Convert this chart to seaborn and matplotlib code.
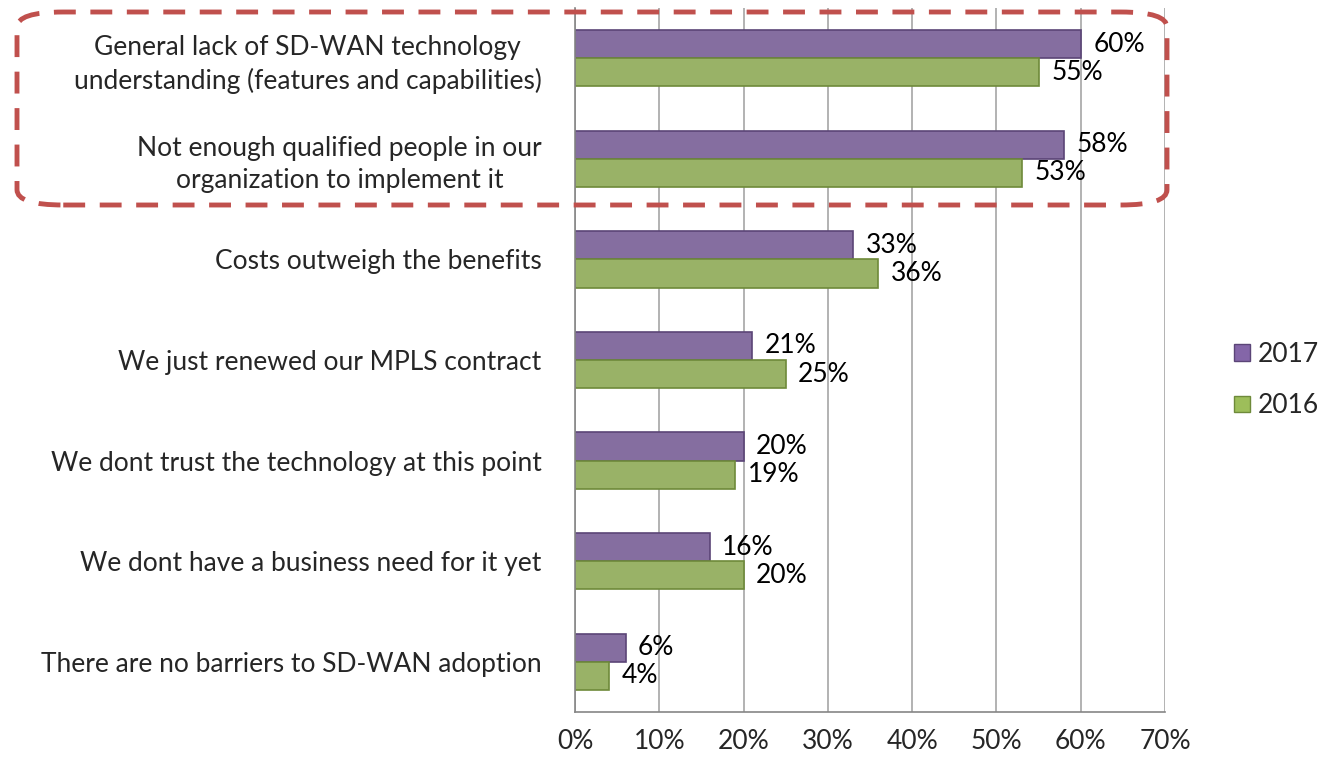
import pandas as pd
import matplotlib.pyplot as plt
import seaborn as sns
import numpy as np
from matplotlib.patches import FancyBboxPatch, Patch
from matplotlib.ticker import MultipleLocator, FixedLocator

categories = [
    "General lack of SD-WAN technology\nunderstanding (features and capabilities)",
    "Not enough qualified people in our\norganization to implement it",
    "Costs outweigh the benefits",
    "We just renewed our MPLS contract",
    "We dont trust the technology at this point",
    "We dont have a business need for it yet",
    "There are no barriers to SD-WAN adoption",
]
years = ["2017", "2016"]
values_2017 = [60, 58, 33, 21, 20, 16, 6]
values_2016 = [55, 53, 36, 25, 19, 20, 4]

df = pd.DataFrame({
    "barrier": categories * 2,
    "year": [years[0]] * len(categories) + [years[1]] * len(categories),
    "pct": values_2017 + values_2016,
})

colors = {"2017": "#8466A8", "2016": "#9DBE5A"}
edges = {"2017": "#5B4577", "2016": "#6E8A3A"}
FS = 19

sns.set_style("white")
plt.rcParams['font.family'] = ['Lato', 'DejaVu Sans']

fig = plt.figure(figsize=(13.22, 7.58), dpi=100)
ax = fig.add_axes([575 / 1322, 1 - 712 / 758, 590 / 1322, 704 / 758])

sns.barplot(data=df, y="barrier", x="pct", hue="year", palette=colors,
            orient="h", width=0.56, dodge=True, ax=ax, legend=False)

# darker edges for a bevelled look
for cont, yr in zip(ax.containers, years):
    for bar in cont:
        bar.set_edgecolor(edges[yr])
        bar.set_linewidth(1.2)
    ax.bar_label(cont, labels=[f"{v:.0f}%" for v in cont.datavalues],
                 padding=9, fontsize=FS, color="black")

ax.set_xlim(0, 70)
ax.set_ylim(len(categories) - 0.5, -0.5)
ax.xaxis.set_major_locator(MultipleLocator(10))
ax.set_xticklabels([f"{int(t)}%" for t in ax.get_xticks()], fontsize=FS)
ax.grid(axis="x", color="#A6A6A6", linewidth=1.2)
ax.set_axisbelow(True)
ax.set_xlabel("")
ax.set_ylabel("")

# category labels sit between boundary ticks
ax.tick_params(axis="y", which="major", length=0, pad=24, labelsize=FS)
ax.yaxis.set_minor_locator(FixedLocator(np.arange(-0.5, len(categories), 1)))
ax.tick_params(axis="y", which="minor", length=8, color="#868686", width=1.2)
ax.tick_params(axis="x", which="major", length=8, color="#868686", width=1.2, pad=4)
for lbl in ax.get_yticklabels():
    lbl.set_horizontalalignment("right")
    lbl.set_multialignment("center")
    lbl.set_linespacing(1.35)

for side in ["top", "right"]:
    ax.spines[side].set_visible(False)
for side in ["left", "bottom"]:
    ax.spines[side].set_color("#868686")
    ax.spines[side].set_linewidth(1.2)

# legend
handles = [Patch(facecolor=colors[y], edgecolor=edges[y], label=y) for y in years]
fig.legend(handles=handles, loc="center left", bbox_to_anchor=(1234 / 1322, 1 - 380 / 758),
           frameon=False, fontsize=FS, handlelength=0.6, handleheight=0.6,
           handletextpad=0.3, labelspacing=1.0, borderpad=0, borderaxespad=0)

# dashed highlight around the top two items
box = FancyBboxPatch((17 / 1322, 1 - 205 / 758), 1150 / 1322, 193 / 758,
                     boxstyle="round,pad=0,rounding_size=0.035",
                     transform=fig.transFigure, fill=False,
                     edgecolor="#C0504D", linewidth=3.5, linestyle=(0, (4.5, 3)),
                     mutation_aspect=758 / 1322, clip_on=False)
fig.patches.append(box)

fig.savefig("out.png", dpi=100, facecolor="white")
